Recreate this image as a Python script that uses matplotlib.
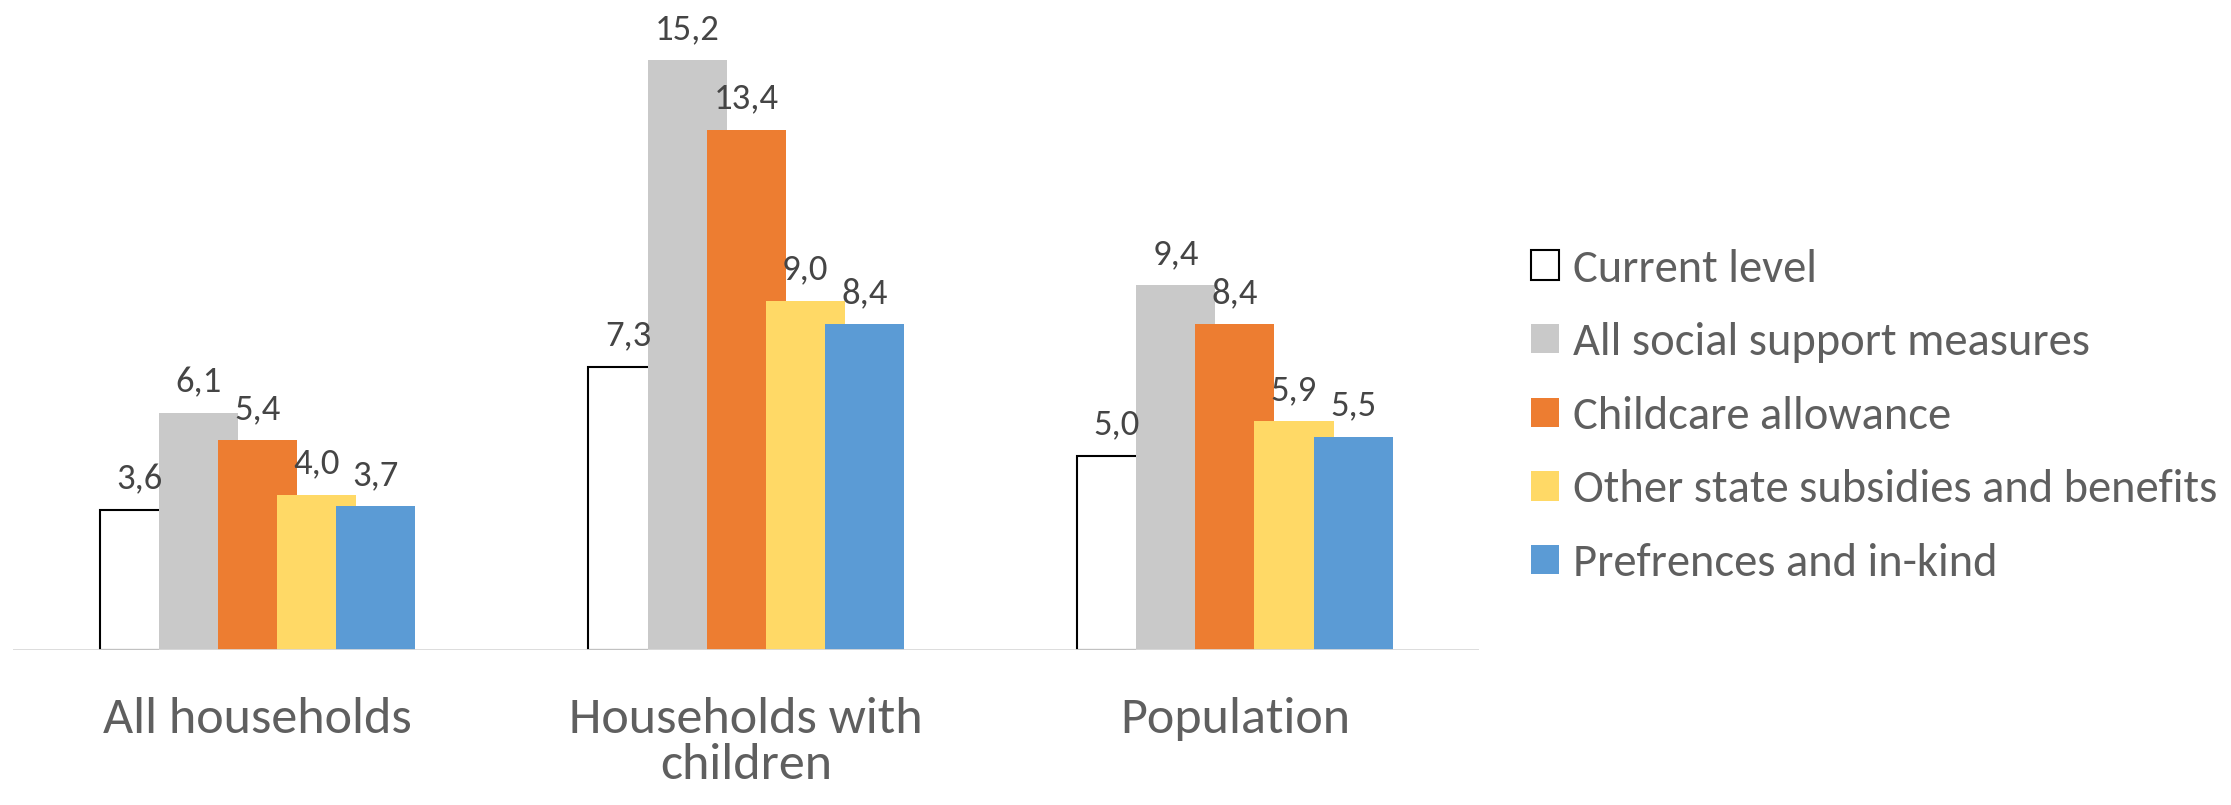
import numpy as np
import matplotlib
matplotlib.use("Agg")
from matplotlib import pyplot as plt
from matplotlib.patches import Patch

categories = ["All households", "Households with\nchildren", "Population"]
series = ["Current level", "All social support measures", "Childcare allowance",
          "Other state subsidies and benefits", "Prefrences and in-kind"]
current = [3.6, 7.3, 5.0]
all_support = [6.1, 15.2, 9.4]
childcare = [5.4, 13.4, 8.4]
other_subsidies = [4.0, 9.0, 5.9]
in_kind = [3.7, 8.4, 5.5]

values = [current, all_support, childcare, other_subsidies, in_kind]
colors = ["white", "#C9C9C9", "#ED7D31", "#FFD966", "#5B9BD5"]

plt.rcParams["font.family"] = ["Carlito", "DejaVu Sans"]

fig = plt.figure(figsize=(22.31, 8.05), dpi=100)
ax = fig.add_axes([0.006, 0.1925, 0.657, 0.8075])

x = np.arange(len(categories))
width = 0.162
step = 0.121
for i, (vals, col) in enumerate(zip(values, colors)):
    pos = x + (i - 2) * step
    if i == 0:
        ax.bar(pos, vals, width, color=col, edgecolor="black", linewidth=1.5, zorder=2)
    else:
        ax.bar(pos, vals, width, color=col, linewidth=0, zorder=2)
    for px, v in zip(pos, vals):
        ax.annotate(f"{v:.1f}".replace(".", ","), (px, v), xytext=(0, 11),
                    textcoords="offset points", ha="center", va="bottom",
                    fontsize=26.5, color="#454545", zorder=3)

ax.axhline(0, color="#D9D9D9", lw=2, zorder=4)
ax.set_xlim(-0.5, 2.5)
ax.set_ylim(0, 16.75)
ax.set_yticks([])
ax.set_xticks(x)
ax.set_xticklabels(categories, fontsize=37.5, color="#5f5f5f", linespacing=1.05)
ax.tick_params(axis="x", length=0, pad=34)
for s in ax.spines.values():
    s.set_visible(False)

handles = [Patch(facecolor=c, edgecolor="black" if i == 0 else c, linewidth=1.5 if i == 0 else 0)
           for i, c in enumerate(colors)]
fig.legend(handles, series, loc="center left", bbox_to_anchor=(0.6674, 0.483),
           frameon=False, labelcolor="#5f5f5f", fontsize=33.5, handlelength=0.6,
           handleheight=0.6, handletextpad=0.3, labelspacing=0.7)

fig.savefig("out.png", dpi=100)
